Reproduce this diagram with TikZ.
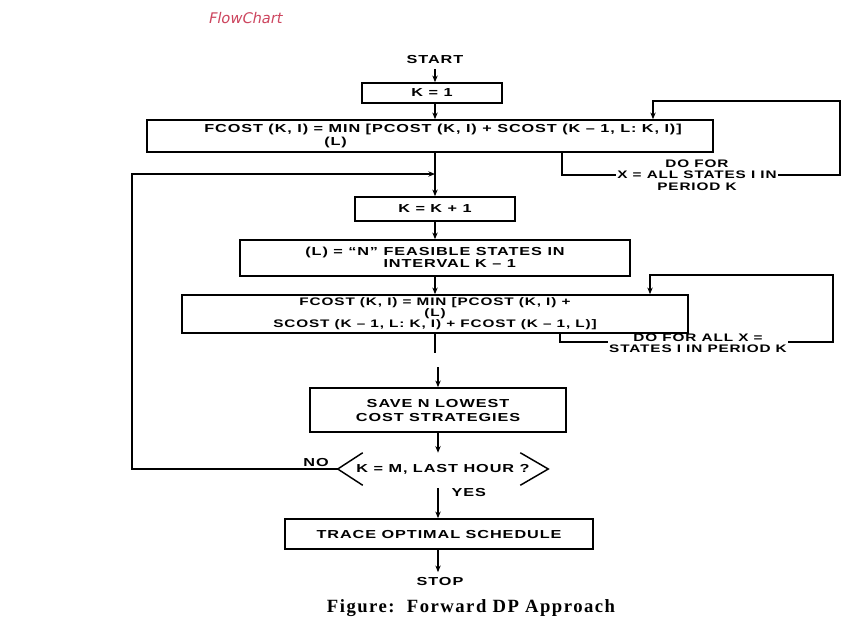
\documentclass[tikz,border=0pt]{standalone}
\usepackage{fontspec}
\setmainfont{Liberation Serif}
\newfontfamily\flowfont{Liberation Sans}[FakeStretch=1.4,LetterSpace=8]
\newfontfamily\capfont{Liberation Serif}[LetterSpace=8]
\newfontfamily\handfont{DejaVu Sans}[FakeSlant=0.2]
\usetikzlibrary{arrows.meta,calc}
\definecolor{handred}{RGB}{205,70,95}

\begin{document}
\begin{tikzpicture}[x=0.75pt,y=-0.75pt,
  flowtext/.style={font={\flowfont\bfseries\fontsize{8.7pt}{#1}\selectfont}},
  flowtext/.default=10pt,
  smalltext/.style={font={\flowfont\bfseries\fontsize{8.2pt}{#1}\selectfont}},
  boxed/.style={draw=black, line width=1.2pt, inner sep=0pt, flowtext},
  conn/.style={line width=1.1pt},
  arrow/.style={conn, -{Stealth[length=5pt,width=4pt]}},
  looplabel/.style={fill=white, align=center, inner xsep=1pt, inner ysep=0pt}]

\useasboundingbox (0,0) rectangle (863,629);
\fill[white] (0,0) rectangle (863,629);

% handwritten heading
\node[font={\handfont\fontsize{11pt}{13pt}\selectfont}, text=handred] (hand) at (245,18) {FlowChart};

% main column
\node[flowtext] (start) at (435,60) {START};
\node[boxed, minimum width=105pt, minimum height=15pt] (k1) at (432,93) {K = 1};
\node[boxed, align=left, minimum width=424.5pt, minimum height=24pt, flowtext=9.75pt] (b1) at (430,136)
  {\hspace*{19.5pt}FCOST (K, I) = MIN [PCOST (K, I) + SCOST (K – 1, L: K, I)]\\\hspace*{109.5pt}(L)};
\node[boxed, minimum width=120pt, minimum height=18pt] (b2) at (435,209) {K = K + 1};
\node[boxed, align=left, minimum width=292.5pt, minimum height=27pt, flowtext=9pt] (b3) at (435,258)
  {(L) = “N” FEASIBLE STATES IN\\\phantom{(L) = “N” }INTERVAL K – 1};
\node[boxed, align=center, minimum width=379.5pt, minimum height=28.5pt, smalltext=8.3pt] (b4) at (435,314)
  {FCOST (K, I) = MIN [PCOST (K, I) +\\(L)\\SCOST (K – 1, L: K, I) + FCOST (K – 1, L)]};
\node[boxed, align=center, minimum width=192pt, minimum height=33pt, flowtext=10.5pt] (b5) at (438,410)
  {SAVE N LOWEST\\COST STRATEGIES};
\node[flowtext, minimum width=157.5pt, minimum height=24pt, inner sep=0pt] (dec) at (443,469) {K = M, LAST HOUR ?};
\node[boxed, minimum width=231pt, minimum height=22.5pt] (b6) at (439,534) {TRACE OPTIMAL SCHEDULE};
\node[flowtext] (stop) at (440,581) {STOP};

\node[flowtext] (no) at (316,462) {NO};
\node[flowtext, anchor=west] (yes) at (447,492) {YES};

% decision outline: two open chevrons
\draw[conn] ($(dec.north west)+(25,0)$) -- (dec.west) -- ($(dec.south west)+(25,0)$);
\draw[conn] ($(dec.north east)+(-28,0)$) -- (dec.east) -- ($(dec.south east)+(-28,0)$);

% route points
\coordinate (l1a) at (562,175);
\coordinate (l1b) at (840,175);
\coordinate (l1c) at (840,101);
\coordinate (l1d) at (653,101);
\coordinate (l2a) at (560,342);
\coordinate (l2b) at (833,342);
\coordinate (l2c) at (833,275);
\coordinate (l2d) at (650,275);
\coordinate (gapA) at (435,353);
\coordinate (gapB) at (438,367);
\coordinate (yesA) at (438,488);
\coordinate (nocorner) at (132,469);
\coordinate (topcorner) at (132,174);
\coordinate (join) at (435,174);

% main flow
\draw[arrow] (start.south) -- (start.south |- k1.north);
\draw[arrow] (k1.south -| start.south) -- (start.south |- b1.north);
\draw[arrow] (b1.south -| b2.north) -- (b2.north);
\draw[arrow] (b2.south) -- (b3.north);
\draw[arrow] (b3.south) -- (b4.north);
\draw[conn] (b4.south) -- (gapA);
\draw[arrow] (gapB) -- (gapB |- b5.north);
\draw[arrow] (b5.south -| gapB) -- (gapB |- dec.north);
\draw[arrow] (yesA) -- (yesA |- b6.north);
\draw[arrow] (b6.south -| yesA) -- (yesA |- stop.north);

% NO branch back to the top of the stage loop
\draw[arrow] (dec.west) -- (nocorner) -- (topcorner) -- (join);

% state loops
\draw[arrow] (b1.south -| l1a) -- (l1a) -- (l1b) -- (l1c) -- (l1d) -- (l1d |- b1.north);
\draw[arrow] (b4.south -| l2a) -- (l2a) -- (l2b) -- (l2c) -- (l2d) -- (l2d |- b4.north);
\node[smalltext=8.6pt, looplabel] (lab1) at (697,175) {DO FOR\\X = ALL STATES I IN\\PERIOD K};
\node[smalltext=8.2pt, looplabel] (lab2) at (698,343) {DO FOR ALL X =\\STATES I IN PERIOD K};

% caption
\node[font={\capfont\bfseries\fontsize{14pt}{16pt}\selectfont}] (cap) at (471,608) {Figure:\ \ Forward DP Approach};
\end{tikzpicture}
\end{document}
